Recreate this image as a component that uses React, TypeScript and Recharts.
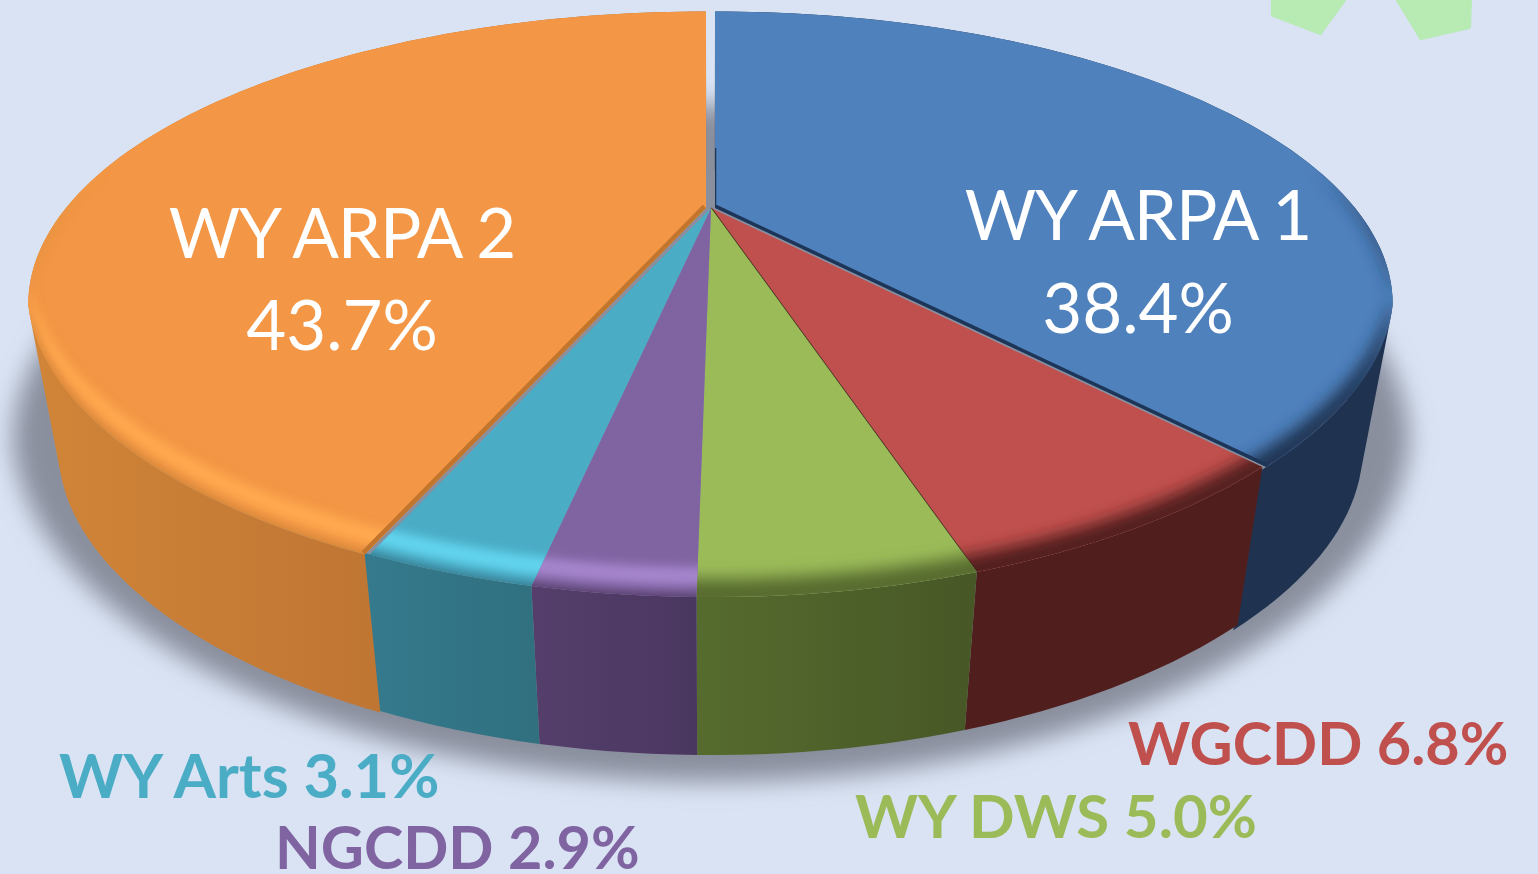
import { PieChart, Pie } from "recharts";

const categories = ["WY ARPA 1", "WGCDD", "WY DWS", "NGCDD", "WY Arts", "WY ARPA 2"];
const shares = [38.4, 6.8, 5.0, 2.9, 3.1, 43.7];

const topColors = ["#4f81bd", "#c0504d", "#9bbb59", "#8064a2", "#4bacc6", "#f39645"];
const glowColors = [null, null, null, "#a584cc", "#62d4ee", "#ffa94f"];
const wallFrom = ["#1f3350", "#4f1e1d", "#566b2e", "#553e6b", "#357b8f", "#d08538"];
const wallTo = ["#1f3350", "#4f1e1d", "#475726", "#4a3760", "#30707f", "#b1682f"];
const labelColors = ["#ffffff", "#c0504d", "#9bbb59", "#8064a2", "#4bacc6", "#ffffff"];

// exploded slices sit a few px off the centre
const nudges = [4, 0, 0, 0, 0, -5];
// walls run a little under the next slice so no gap shows
const wallOverlap = [1, 0, 0, 0, 2, 0];

const labelSpots = [
  { x: 1138, y: 240, y2: 333, anchor: "middle", size: 69 },
  { x: 1128, y: 765, anchor: "start", size: 59.4 },
  { x: 855, y: 838, anchor: "start", size: 60 },
  { x: 275, y: 869, anchor: "start", size: 59.4 },
  { x: 59, y: 798, anchor: "start", size: 61.3 },
  { x: 342, y: 258, y2: 350, anchor: "middle", size: 69 },
];

const tableData = categories.map((name, i) => ({ name, value: shares[i], idx: i }));
const shadowData = [{ name: "shadow", value: 1 }];

const TILT = 0.408;
const PERSP = 0.329;
const WALL_DROP = 158;
const WALL_SHRINK = 0.955;

function project(cx: number, cy: number, r: number, deg: number, lift = 0) {
  const a = (deg * Math.PI) / 180;
  const u = Math.cos(a);
  const v = -Math.sin(a);
  const d = 1 - PERSP * v;
  const pinch = 1 - (0.035 * Math.max(0, v - 0.33)) / 0.67;
  // bevel bands taper off towards the far side of the disc
  const taper = Math.min(1, Math.max(0, (v + 0.15) / 0.6));
  return [cx + (r * u * pinch) / d, cy + (r * TILT * v) / d - lift * taper];
}

function arcPoints(cx: number, cy: number, r: number, from: number, to: number, lift = 0) {
  const n = Math.max(6, Math.ceil(Math.abs(to - from) / 1.5));
  const pts: number[][] = [];
  for (let i = 0; i <= n; i++) {
    pts.push(project(cx, cy, r, from + ((to - from) * i) / n, lift));
  }
  return pts;
}

const toPath = (pts: number[][]) =>
  "M" + pts.map((p) => `${p[0].toFixed(1)},${p[1].toFixed(1)}`).join("L") + "Z";

function bandPath(cx: number, cy: number, r: number, s: number, e: number, liftA: number, liftB: number) {
  return toPath([...arcPoints(cx, cy, r, s, e, liftA), ...arcPoints(cx, cy, r, e, s, liftB)]);
}

function lowered(p: number[], cx: number) {
  return [cx + (p[0] - cx) * WALL_SHRINK, p[1] + WALL_DROP];
}

function WallShape(props: any) {
  const i = props.payload?.idx ?? props.idx;
  const cx = props.cx + nudges[i];
  const top = arcPoints(cx, props.cy, props.outerRadius, props.startAngle, props.endAngle - wallOverlap[i]);
  // one quad per arc step, all wound the same way so they union where the wall turns
  let d = "";
  for (let k = 0; k < top.length - 1; k++) {
    const q = [top[k], top[k + 1], lowered(top[k + 1], props.cx), lowered(top[k], props.cx)];
    let area = 0;
    q.forEach((p, n) => {
      const o = q[(n + 1) % 4];
      area += p[0] * o[1] - o[0] * p[1];
    });
    d += toPath(area < 0 ? q.reverse() : q);
  }
  return <path d={d} fill={`url(#wall${i})`} />;
}

function TopShape(props: any) {
  const i = props.payload?.idx ?? props.idx;
  const cx = props.cx + nudges[i];
  const { cy, outerRadius: r, startAngle: s, endAngle: e } = props;
  const surface = toPath([[cx, cy], ...arcPoints(cx, cy, r, s, e)]);

  // the bevel only shows on the near side of the disc; run it past the slice
  // ends so the blur does not fade at the corners, the clip trims it
  const rimStart = Math.min(s + 6, 12);
  const rimEnd = Math.max(e - 6, -192);
  const hasRim = rimStart > rimEnd;
  const dark = i < 3;

  const edgeEnd = project(cx, cy, r, e);
  const edgeStart = project(cx, cy, r, s);

  return (
    <g>
      <clipPath id={`clip${i}`}>
        <path d={surface} />
      </clipPath>
      <path d={surface} fill={topColors[i]} />
      <g clipPath={`url(#clip${i})`}>
        {hasRim && glowColors[i] && (
          <path d={bandPath(cx, cy, r, rimStart, rimEnd, 30, 12)} fill={glowColors[i]} filter="url(#soft)" />
        )}
        {hasRim && (
          <path
            d={bandPath(cx, cy, r, rimStart, rimEnd, dark ? 18 : 3, -12)}
            fill={wallFrom[i]}
            filter={dark ? "url(#softer)" : "url(#soft)"}
          />
        )}
        {i === 0 && (
          <line x1={cx} y1={cy} x2={edgeEnd[0]} y2={edgeEnd[1]} stroke="#1d3557" strokeWidth={7} />
        )}
        {i === 0 && (
          <line x1={cx} y1={cy} x2={edgeStart[0]} y2={cy - 60} stroke="#1d3557" strokeWidth={2.5} />
        )}
        {i === 5 && (
          <line x1={cx} y1={cy} x2={edgeStart[0]} y2={edgeStart[1]} stroke="#c2752c" strokeWidth={9} />
        )}
      </g>
      {i === 1 && (
        <line x1={cx} y1={cy} x2={edgeEnd[0]} y2={edgeEnd[1]} stroke="#3a2a1e" strokeWidth={1.5} />
      )}
    </g>
  );
}

function ShadowShape(props: any) {
  const { cx, cy, outerRadius: r } = props;
  const pts = arcPoints(cx, cy, r, 0, 359).map((p) => [
    cx + (p[0] - cx) * 1.03,
    p[1] * 1.155 + 92,
  ]);
  return <path d={toPath(pts)} fill="#8a8f9e" filter="url(#shadowBlur)" />;
}

function renderLabel(props: any) {
  const i = props.payload?.idx ?? props.idx ?? props.index;
  const spot = labelSpots[i];
  const pct = `${shares[i].toFixed(1)}%`;
  if (spot.y2) {
    return (
      <g key={categories[i]}>
        <text
          x={spot.x}
          y={spot.y}
          textAnchor={spot.anchor}
          fontSize={spot.size}
          letterSpacing={-1.2}
          fill={labelColors[i]}
          fontFamily="Lato"
        >
          {categories[i]}
        </text>
        <text x={spot.x} y={spot.y2} textAnchor={spot.anchor} fontSize={spot.size} fill={labelColors[i]} fontFamily="Lato">
          {pct}
        </text>
      </g>
    );
  }
  return (
    <text
      key={categories[i]}
      x={spot.x}
      y={spot.y}
      textAnchor={spot.anchor}
      fontSize={spot.size}
      fontWeight={700}
      fill={labelColors[i]}
      fontFamily="Lato"
    >
      {`${categories[i]} ${pct}`}
    </text>
  );
}

export default function App() {
  return (
    <div
      style={{
        position: "absolute",
        left: 0,
        top: 0,
        width: 1538,
        height: 874,
        overflow: "hidden",
        background: "#d9e3f3",
      }}
    >
      <PieChart width={1538} height={874} margin={{ top: 0, right: 0, bottom: 0, left: 0 }}>
        <defs>
          <filter id="soft" x="-10%" y="-30%" width="120%" height="160%">
            <feGaussianBlur stdDeviation="5" />
          </filter>
          <filter id="softer" x="-10%" y="-30%" width="120%" height="160%">
            <feGaussianBlur stdDeviation="8" />
          </filter>
          <filter id="shadowBlur" x="-10%" y="-10%" width="120%" height="120%">
            <feGaussianBlur stdDeviation="12" />
          </filter>
          {categories.map((c, i) => (
            <linearGradient key={c} id={`wall${i}`} x1="0" y1="0" x2="1" y2="0">
              <stop offset="0%" stopColor={wallFrom[i]} />
              <stop offset="100%" stopColor={wallTo[i]} />
            </linearGradient>
          ))}
        </defs>
        <polygon points="1273,0 1273,15 1320,33 1344,0" fill="#b8eab3" stroke="#b8eab3" strokeWidth={4} strokeLinejoin="round" />
        <polygon points="1398,0 1421,38 1469,27 1470,0" fill="#b8eab3" stroke="#b8eab3" strokeWidth={4} strokeLinejoin="round" />
        <Pie
          data={shadowData}
          dataKey="value"
          cx={711}
          cy={208}
          outerRadius={640}
          startAngle={90}
          endAngle={-270}
          stroke="none"
          shape={ShadowShape}
          isAnimationActive={false}
        />
        <Pie
          data={tableData}
          dataKey="value"
          cx={711}
          cy={208}
          outerRadius={640}
          startAngle={90}
          endAngle={-270}
          stroke="none"
          shape={WallShape}
          isAnimationActive={false}
        />
        <Pie
          data={tableData}
          dataKey="value"
          cx={711}
          cy={208}
          outerRadius={640}
          startAngle={90}
          endAngle={-270}
          stroke="none"
          shape={TopShape}
          label={renderLabel}
          labelLine={false}
          isAnimationActive={false}
        />
      </PieChart>
    </div>
  );
}
